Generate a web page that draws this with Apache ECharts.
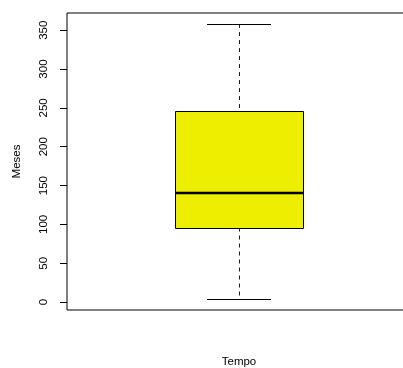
<!DOCTYPE html>
<html>
<head>
<meta charset="utf-8">
<script src="https://cdn.jsdelivr.net/npm/echarts@6/dist/echarts.min.js"></script>
<style>
  html, body { margin: 0; padding: 0; background: #ffffff; }
  #chart { width: 403px; height: 368px; }
</style>
</head>
<body>
<div id="chart"></div>
<script>
// Five-number summary of the time variable (months)
const categories = ['Tempo'];
const whiskerLow = [4];
const quartile1 = [96];
const medians = [141];
const quartile3 = [246];
const whiskerHigh = [358];
const yTicks = [0, 50, 100, 150, 200, 250, 300, 350];

const axisFont = 'Liberation Sans, Arial, Helvetica, sans-serif';

// y range padded by 4% of the data span on each side
const lo = Math.min(...whiskerLow), hi = Math.max(...whiskerHigh);
const pad = (hi - lo) * 0.04;

const seriesData = categories.map((c, i) => [i, whiskerLow[i], quartile1[i], medians[i], quartile3[i], whiskerHigh[i]]);

function crisp(v) { return Math.round(v - 0.5) + 0.5; }

function renderBox(params, api) {
  const x = api.value(0);
  const band = api.size([1, 0])[0];
  const boxW = band * 0.37;
  const capW = boxW / 2;
  const cx = api.coord([x, 0])[0];
  const yLow = api.coord([x, api.value(1)])[1];
  const yQ1 = api.coord([x, api.value(2)])[1];
  const yMed = api.coord([x, api.value(3)])[1];
  const yQ3 = api.coord([x, api.value(4)])[1];
  const yHigh = api.coord([x, api.value(5)])[1];
  const xc = crisp(cx);
  const left = Math.round(cx - boxW / 2), right = Math.round(cx + boxW / 2);
  const dash = { stroke: '#222', lineWidth: 1, lineDash: [4, 4] };
  const solid = { stroke: '#000', lineWidth: 1 };
  return {
    type: 'group',
    children: [
      { type: 'line', shape: { x1: xc, y1: yHigh, x2: xc, y2: yQ3 }, style: dash },
      { type: 'line', shape: { x1: xc, y1: yQ1, x2: xc, y2: yLow }, style: dash },
      { type: 'line', shape: { x1: Math.round(cx - capW / 2), y1: crisp(yHigh), x2: Math.round(cx + capW / 2), y2: crisp(yHigh) }, style: solid },
      { type: 'line', shape: { x1: Math.round(cx - capW / 2), y1: crisp(yLow), x2: Math.round(cx + capW / 2), y2: crisp(yLow) }, style: solid },
      { type: 'rect', shape: { x: left + 0.5, y: crisp(yQ3), width: right - left, height: Math.round(yQ1 - yQ3) },
        style: { fill: '#EEEE00', stroke: '#000', lineWidth: 1 } },
      { type: 'line', shape: { x1: left, y1: Math.round(yMed), x2: right + 1, y2: Math.round(yMed) }, style: { stroke: '#000', lineWidth: 2.5 } }
    ]
  };
}

const chart = echarts.init(document.getElementById('chart'), null, { renderer: 'canvas' });
chart.setOption({
  animation: false,
  backgroundColor: '#ffffff',
  grid: {
    left: 67, top: 13, bottom: 58, right: -8,
    outerBoundsMode: 'none',
    containLabel: false,
    show: true, borderColor: '#000', borderWidth: 1, backgroundColor: 'transparent'
  },
  xAxis: {
    type: 'category',
    data: categories,
    boundaryGap: true,
    name: 'Tempo',
    nameLocation: 'middle',
    nameGap: 46,
    nameTextStyle: { fontFamily: axisFont, fontSize: 11.5, color: '#000' },
    axisLine: { show: false },
    axisTick: { show: false },
    axisLabel: { show: false },
    splitLine: { show: false }
  },
  yAxis: {
    type: 'value',
    min: lo - pad,
    max: hi + pad,
    name: 'Meses',
    nameLocation: 'middle',
    nameGap: 44,
    nameTextStyle: { fontFamily: axisFont, fontSize: 11.5, color: '#000' },
    axisLine: { show: false },
    axisTick: { show: true, length: 7, lineStyle: { color: '#000', width: 1 }, customValues: yTicks },
    axisLabel: { show: true, rotate: 90, margin: 17, fontFamily: axisFont, fontSize: 11.5, color: '#000', customValues: yTicks },
    splitLine: { show: false }
  },
  series: [{
    type: 'custom',
    renderItem: renderBox,
    encode: { x: 0, y: [1, 2, 3, 4, 5] },
    data: seriesData,
    clip: false
  }]
});
</script>
</body>
</html>
